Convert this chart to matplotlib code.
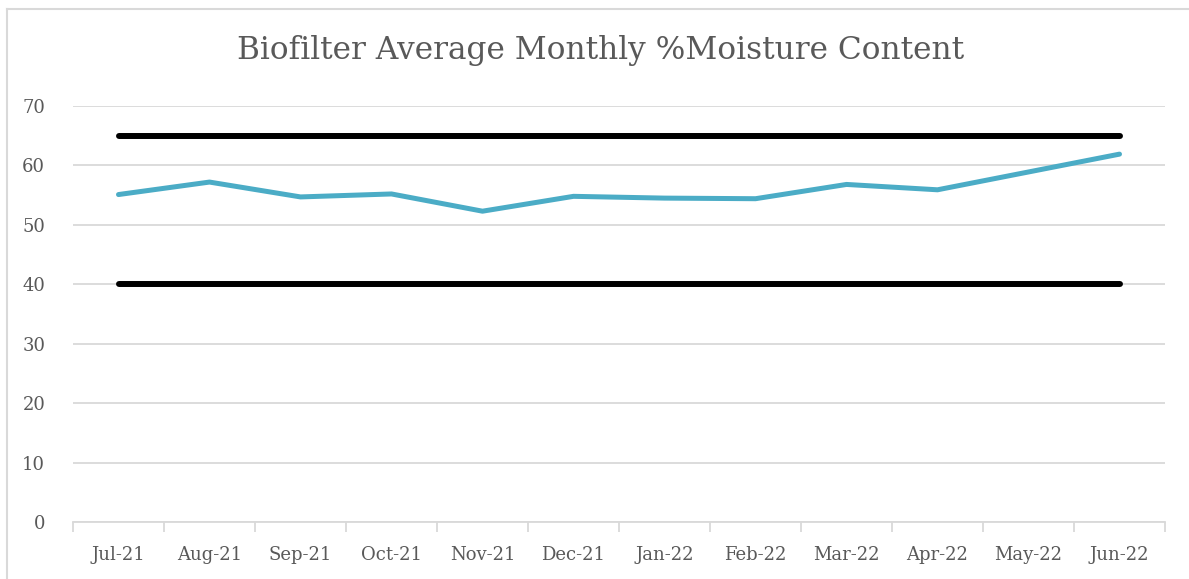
import matplotlib.pyplot as plt
from matplotlib.lines import Line2D

months = ['Jul-21', 'Aug-21', 'Sep-21', 'Oct-21', 'Nov-21', 'Dec-21',
          'Jan-22', 'Feb-22', 'Mar-22', 'Apr-22', 'May-22', 'Jun-22']
moisture = [55.1, 57.2, 54.7, 55.2, 52.3, 54.8, 54.5, 54.4, 56.8, 55.9, 58.9, 61.9]
upper_limit = [65] * 12
lower_limit = [40] * 12
y_ticks = [0, 10, 20, 30, 40, 50, 60, 70]

plt.rcParams['font.family'] = ['DejaVu Serif']
txt = '#595959'
grid = '#D9D9D9'

fig = plt.figure(figsize=(11.89, 5.79), dpi=100)
W, H = 1189, 579
ax = fig.add_axes([73 / W, 1 - 522 / H, (1165 - 73) / W, (522 - 106) / H])

x = list(range(len(months)))
ax.plot(x, upper_limit, color='black', lw=4.3, solid_capstyle='round', zorder=3)
ax.plot(x, lower_limit, color='black', lw=4.3, solid_capstyle='round', zorder=3)
ax.plot(x, moisture, color='#4BACC6', lw=3.6, solid_capstyle='round',
        solid_joinstyle='round', zorder=4)

ax.set_xlim(-0.5, len(months) - 0.5)
ax.set_ylim(0, 70)
ax.set_yticks(y_ticks)
ax.yaxis.grid(True, color=grid, lw=1.3)
ax.set_axisbelow(True)

ax.set_xticks(x)
ax.set_xticklabels(months)
ax.set_xticks([i - 0.5 for i in range(len(months) + 1)], minor=True)
ax.tick_params(axis='x', which='major', length=0, pad=17, labelsize=13, labelcolor=txt)
ax.tick_params(axis='x', which='minor', length=7, color=grid, width=1.3)
ax.tick_params(axis='y', length=0, pad=20, labelsize=13, labelcolor=txt)

for s in ['top', 'right', 'left']:
    ax.spines[s].set_visible(False)
ax.spines['bottom'].set_color(grid)
ax.spines['bottom'].set_linewidth(1.3)

fig.text(601 / W, 1 - 51 / H, 'Biofilter Average Monthly %Moisture Content',
         ha='center', va='center', fontsize=22.5, color=txt)

# chart border: only left and top edges are visible in the crop
bx, by = 7 / W, 1 - 9 / H
fig.add_artist(Line2D([bx, bx], [0, by], transform=fig.transFigure, color=grid, lw=1.5))
fig.add_artist(Line2D([bx, 1], [by, by], transform=fig.transFigure, color=grid, lw=1.5))

fig.savefig('out.png', dpi=100)
